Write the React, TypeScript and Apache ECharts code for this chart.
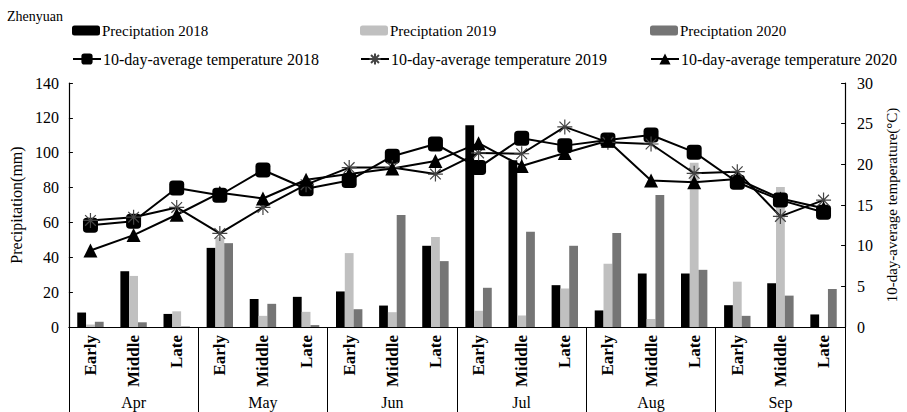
import React, { useEffect, useRef } from "react";
import * as echarts from "echarts";

// Ten-day periods within each month
const periods = [
  "Early", "Middle", "Late", "Early", "Middle", "Late", "Early", "Middle", "Late",
  "Early", "Middle", "Late", "Early", "Middle", "Late", "Early", "Middle", "Late",
];
const months = ["Apr", "May", "Jun", "Jul", "Aug", "Sep"];

// Precipitation (mm)
const precip2018 = [8.3, 32.0, 7.5, 45.4, 16.1, 17.3, 20.4, 12.3, 46.6, 115.8, 95.7, 24.0, 9.5, 30.7, 30.7, 12.5, 25.1, 7.2];
const precip2019 = [1.4, 29.3, 9.0, 51.5, 6.4, 8.7, 42.4, 8.5, 51.6, 9.3, 6.6, 22.1, 36.3, 4.6, 94.3, 26.0, 80.3, 0];
const precip2020 = [3.0, 2.7, 0.3, 48.1, 13.3, 1.1, 10.2, 64.2, 37.8, 22.5, 54.6, 46.6, 54.0, 75.8, 32.8, 6.4, 18.0, 21.8];

// 10-day-average temperature (°C)
const temp2018 = [12.5, 13.0, 17.1, 16.2, 19.3, 17.0, 18.0, 21.0, 22.5, 19.6, 23.2, 22.3, 23.0, 23.6, 21.5, 17.8, 15.6, 14.1];
const temp2019 = [13.1, 13.5, 14.7, 11.5, 14.7, 17.5, 19.6, 19.6, 18.8, 21.4, 21.3, 24.6, 22.7, 22.5, 18.9, 19.1, 13.6, 15.6];
const temp2020 = [9.4, 11.3, 13.8, 16.5, 15.8, 18.1, 18.8, 19.5, 20.4, 22.6, 19.8, 21.4, 22.9, 18.0, 17.8, 18.2, 15.8, 14.6];

const precipTicks = { min: 0, max: 140, interval: 20 };
const tempTicks = { min: 0, max: 30, interval: 5 };

const FONT = "'Liberation Serif', 'Times New Roman', serif";
const ASTERISK = "path://M8 0 L8 16 M0 8 L16 8 M2.3 2.3 L13.7 13.7 M13.7 2.3 L2.3 13.7";

export default function App() {
  const ref = useRef<HTMLDivElement>(null);

  useEffect(() => {
    if (!ref.current) return;
    const chart = echarts.init(ref.current, undefined, { renderer: "svg" });

    const barSeries = (name: string, data: number[], color: string) => ({
      name,
      type: "bar",
      xAxisIndex: 0,
      yAxisIndex: 0,
      data,
      barWidth: 8.8,
      barGap: "0%",
      itemStyle: { color },
      z: 2,
    });

    const lineSeries = (name: string, data: number[], symbol: string, size: number, extra: any = {}) => ({
      name,
      type: "line",
      xAxisIndex: 0,
      yAxisIndex: 1,
      data,
      symbol,
      symbolSize: size,
      showAllSymbol: true,
      lineStyle: { color: "#000", width: 2 },
      itemStyle: { color: "#000", ...extra },
      z: 5,
    });

    const legendAt = (name: string, left: number, top: number, bar: boolean) => ({
      data: [name],
      left,
      top,
      itemWidth: 28,
      itemHeight: bar ? 10 : 14,
      itemGap: 0,
      padding: 0,
      textStyle: { fontFamily: FONT, fontSize: bar ? 15 : 16, color: "#000", padding: [0, 0, 0, -3] },
      selectedMode: false,
    });

    chart.setOption({
      animation: false,
      backgroundColor: "#fff",
      textStyle: { fontFamily: FONT },
      title: {
        text: "Zhenyuan",
        left: 7,
        top: 9,
        padding: 0,
        textStyle: { fontFamily: FONT, fontSize: 14, fontWeight: "normal", color: "#000" },
      },
      legend: [
        legendAt("Preciptation 2018", 72, 23, true),
        legendAt("Preciptation 2019", 360, 23, true),
        legendAt("Preciptation 2020", 650, 23, true),
        legendAt("10-day-average temperature 2018", 72, 51, false),
        legendAt("10-day-average temperature 2019", 360, 51, false),
        legendAt("10-day-average temperature 2020", 650, 51, false),
      ],
      grid: { left: 68, right: 51, top: 83, bottom: 85 },
      xAxis: [
        {
          type: "category",
          data: periods,
          position: "bottom",
          axisLine: { show: false },
          axisTick: { show: false },
          axisLabel: {
            rotate: 90,
            margin: 8,
            interval: 0,
            fontFamily: FONT,
            fontSize: 17,
            fontWeight: "bold",
            color: "#000",
          },
        },
        {
          type: "category",
          data: months,
          position: "bottom",
          axisLine: { show: true, lineStyle: { color: "#000", width: 1.2 } },
          axisTick: { show: true, length: 85, lineStyle: { color: "#000", width: 1 } },
          axisLabel: { margin: 67, fontFamily: FONT, fontSize: 16, color: "#000" },
        },
      ],
      yAxis: [
        {
          type: "value",
          ...precipTicks,
          name: "Precipitation(mm)",
          nameLocation: "middle",
          nameGap: 44,
          nameRotate: 90,
          nameTextStyle: { fontFamily: FONT, fontSize: 16, color: "#000" },
          axisLine: { show: true, lineStyle: { color: "#000", width: 1.2 } },
          axisTick: { show: true, inside: true, length: 4, lineStyle: { color: "#000" } },
          axisLabel: { fontFamily: FONT, fontSize: 16, color: "#000", margin: 10 },
          splitLine: { show: false },
        },
        {
          type: "value",
          ...tempTicks,
          position: "right",
          name: "10-day-average temperature(°C)",
          nameLocation: "middle",
          nameGap: 32,
          nameRotate: 90,
          nameTextStyle: { fontFamily: FONT, fontSize: 15, color: "#000" },
          axisLine: { show: true, lineStyle: { color: "#000", width: 1.2 } },
          axisTick: { show: true, inside: true, length: 4, lineStyle: { color: "#000" } },
          axisLabel: { fontFamily: FONT, fontSize: 16, color: "#000", margin: 12 },
          splitLine: { show: false },
        },
      ],
      series: [
        barSeries("Preciptation 2018", precip2018, "#000000"),
        barSeries("Preciptation 2019", precip2019, "#c0c0c0"),
        barSeries("Preciptation 2020", precip2020, "#757575"),
        lineSeries("10-day-average temperature 2018", temp2018, "roundRect", 15),
        lineSeries("10-day-average temperature 2019", temp2019, ASTERISK, 15, {
          color: "#000",
          borderColor: "#444",
          borderWidth: 1.2,
        }),
        lineSeries("10-day-average temperature 2020", temp2020, "triangle", 14),
      ],
    });

    return () => chart.dispose();
  }, []);

  return (
    <div
      ref={ref}
      style={{ position: "fixed", left: 0, top: 0, width: 907, height: 412, background: "#fff" }}
    />
  );
}
